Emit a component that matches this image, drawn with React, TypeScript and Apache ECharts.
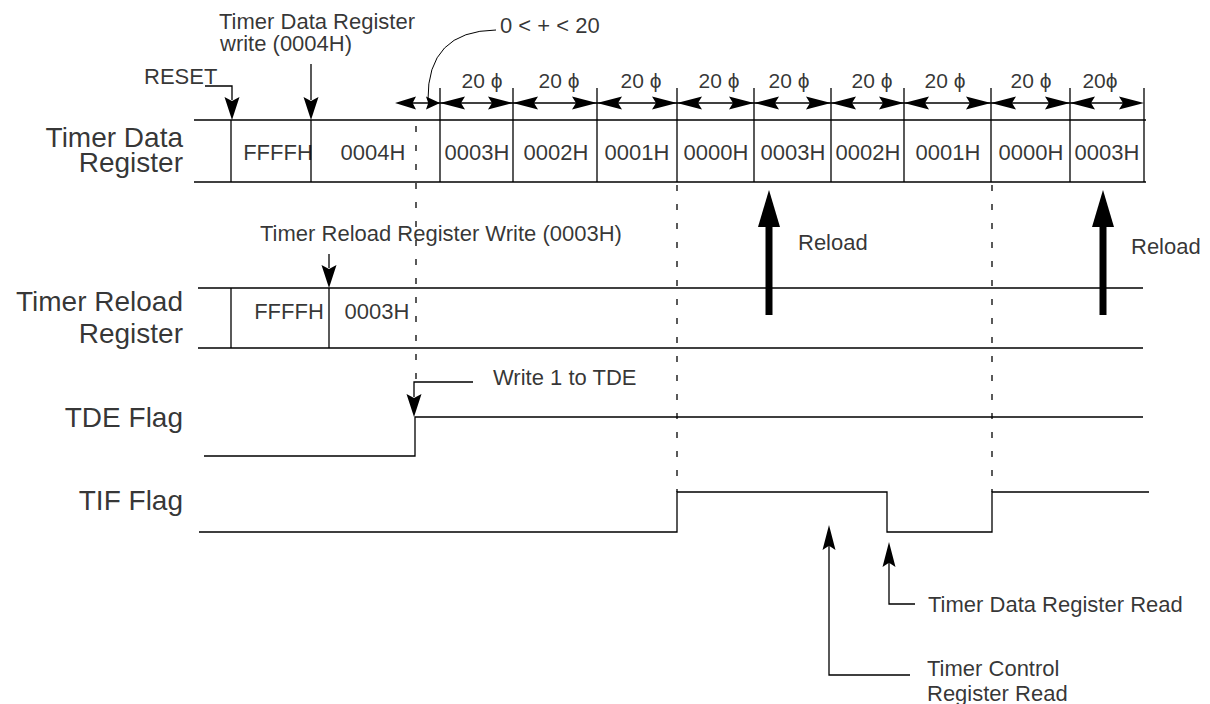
import React, { useEffect, useRef } from "react";
import * as echarts from "echarts";

const W = 1210;
const H = 704;
const FONT = "'Liberation Sans', Arial, Helvetica, sans-serif";

// ---- signal levels (y axis units) ----
const tdrTop = 120;
const tdrBot = 182;
const trrTop = 288;
const trrBot = 348;
const dimY = 103;
const tickTop = 88;

// ---- Timer Data Register bus ----
const tdrSpan = [194, 1146];
const tdrEdges = [231, 311, 440, 513, 597, 677, 754, 831, 904, 991, 1070, 1144];
const tdrValues = ["FFFFH", "0004H", "0003H", "0002H", "0001H", "0000H", "0003H", "0002H", "0001H", "0000H", "0003H"];
const tdrValueX = [278, 373, 477, 556, 637, 716, 793, 868, 948, 1031, 1107];

// ---- count periods (20 phi each) ----
const periodEdges = [440, 513, 597, 677, 754, 831, 904, 991, 1070, 1144];
const periodLabels = ["20 ϕ", "20 ϕ", "20 ϕ", "20 ϕ", "20 ϕ", "20 ϕ", "20 ϕ", "20 ϕ", "20ϕ"];
const periodLabelX = [482, 559, 641, 719, 789, 872, 945, 1031, 1100];
const syncStart = 395; // "0 < + < 20" interval left arrow tip

// ---- Timer Reload Register bus ----
const trrSpan = [198, 1143];
const trrEdges = [231, 329];
const trrValues = ["FFFFH", "0003H"];
const trrValueX = [289, 377];

// ---- flags ----
const tdeWave = [[204, 456], [415, 456], [415, 417], [1143, 417]];
const tifWave = [[199, 532], [677, 532], [677, 492], [887, 492], [887, 532], [992, 532], [992, 492], [1149, 492]];

// ---- dashed guides: [x, yStart, yEnd] ----
const guides = [[416, 126, 382], [677, 185, 492], [992, 185, 492]];
const DASH = 6;
const GAP = 13;

// ---- reload arrows ----
const reloadX = [769, 1103];
const reloadTip = 190;
const reloadTail = 315;

// ---- event arrows: [x, tip y] ----
const downArrows = [[232, 120], [311, 120], [329, 288], [414, 417]];
const upArrows = [[829, 525], [889, 542]];
const leaders = [
  [[205, 86], [232, 86], [232, 100]],
  [[311, 64], [311, 100]],
  [[329, 254], [329, 268]],
  [[473, 382], [414, 382], [414, 397]],
  [[829, 545], [829, 675], [910, 675]],
  [[889, 562], [889, 604], [915, 604]],
];
const syncCurve = [[496, 30], [428, 100]];

// ---- texts ----
const rowLabels = [
  ["Timer Data", 137], ["Register", 162],
  ["Timer Reload", 301], ["Register", 333],
  ["TDE Flag", 417], ["TIF Flag", 500],
];
const rowLabelRight = 183;
const notes = [
  ["Timer Data Register", 219, 21],
  ["write (0004H)", 220, 43],
  ["RESET", 144, 76],
  ["0 < + < 20", 500, 25],
  ["Timer Reload Register Write (0003H)", 260, 233],
  ["Write 1 to TDE", 493, 377],
  ["Reload", 798, 242],
  ["Reload", 1131, 246],
  ["Timer Data Register Read", 928, 604],
  ["Timer Control", 927, 668],
  ["Register Read", 927, 693],
];

const DOWN = "path://M0,0L7.5,4L15,0L7.5,23Z";
const UP = "path://M7.5,0L15,23L7.5,19L0,23Z";
const RIGHT = "path://M0,0L25,6.5L0,13L4,6.5Z";
const LEFT = "path://M25,0L0,6.5L25,13L21,6.5Z";

const headSeries = (symbol: string, size: number[], data: number[][]) => ({
  type: "scatter",
  silent: true,
  symbol,
  symbolSize: size,
  itemStyle: { color: "#000", opacity: 1 },
  data,
});

export default function App() {
  const ref = useRef<HTMLDivElement>(null);
  useEffect(() => {
    if (!ref.current) return;
    const chart = echarts.init(ref.current, null, { renderer: "svg" });

    const solid: any[] = [];
    solid.push({ coords: [[tdrSpan[0], tdrTop], [tdrSpan[1], tdrTop]] });
    solid.push({ coords: [[tdrSpan[0], tdrBot], [tdrSpan[1], tdrBot]] });
    tdrEdges.forEach((x) => {
      const top = periodEdges.includes(x) ? tickTop : tdrTop;
      solid.push({ coords: [[x, top], [x, tdrBot]] });
    });
    solid.push({ coords: [[syncStart + 4, dimY], [periodEdges[periodEdges.length - 1] - 4, dimY]] });
    solid.push({ coords: [[trrSpan[0], trrTop], [trrSpan[1], trrTop]] });
    solid.push({ coords: [[trrSpan[0], trrBot], [trrSpan[1], trrBot]] });
    trrEdges.forEach((x) => solid.push({ coords: [[x, trrTop], [x, trrBot]] }));
    solid.push({ coords: tdeWave });
    solid.push({ coords: tifWave });
    leaders.forEach((l) => solid.push({ coords: l }));

    // dashed guides as explicit dash segments
    const dashes: any[] = [];
    guides.forEach(([x, y0, y1]) => {
      for (let y = y0; y < y1; y += DASH + GAP) {
        dashes.push({ coords: [[x, y], [x, Math.min(y + DASH, y1)]] });
      }
    });

    const thick = reloadX.map((x) => ({ coords: [[x, reloadTail], [x, reloadTip + 34]] }));

    const downPts = downArrows.map(([x, tip]) => [x, tip - 11.5]);
    const upPts = upArrows.map(([x, tip]) => [x, tip + 12.5]);
    const leftPts: number[][] = [];
    const rightPts: number[][] = [];
    for (let i = 0; i < periodEdges.length - 1; i++) {
      leftPts.push([periodEdges[i] + 12.5, dimY]);
      rightPts.push([periodEdges[i + 1] - 12.5, dimY]);
    }
    const syncLeft = [[syncStart + 10.5, dimY]];
    const syncRight = [[periodEdges[0] - 7, dimY]];
    const reloadHeads = reloadX.map((x) => [x, reloadTip + 18.5]);

    const textItem = (t: string, x: number, y: number, align: string, size: number) => ({
      value: [x, y],
      label: {
        show: true,
        formatter: t,
        position: "inside",
        align,
        verticalAlign: "middle",
        fontSize: size,
        fontFamily: FONT,
        color: "#000",
      },
    });
    const texts: any[] = [];
    rowLabels.forEach(([t, y]) => texts.push(textItem(t as string, rowLabelRight, y as number, "right", 28)));
    notes.forEach(([t, x, y]) => texts.push(textItem(t as string, x as number, y as number, "left", 22)));
    tdrValues.forEach((t, i) => texts.push(textItem(t, tdrValueX[i], 152, "center", 22)));
    trrValues.forEach((t, i) => texts.push(textItem(t, trrValueX[i], 311, "center", 22)));
    periodLabels.forEach((t, i) => texts.push(textItem(t, periodLabelX[i], 80, "center", 21)));

    chart.setOption({
      animation: false,
      backgroundColor: "#fff",
      grid: { left: 0, right: 0, top: 0, bottom: 0, containLabel: false },
      xAxis: { type: "value", min: 0, max: W, show: false },
      yAxis: { type: "value", min: 0, max: H, inverse: true, show: false },
      series: [
        {
          type: "lines",
          coordinateSystem: "cartesian2d",
          polyline: true,
          silent: true,
          symbol: "none",
          lineStyle: { color: "#000", width: 1.3, opacity: 1 },
          data: solid,
        },
        {
          type: "lines",
          coordinateSystem: "cartesian2d",
          polyline: true,
          silent: true,
          symbol: "none",
          lineStyle: { color: "#000", width: 1.3, opacity: 1 },
          data: dashes,
        },
        {
          type: "lines",
          coordinateSystem: "cartesian2d",
          polyline: true,
          silent: true,
          symbol: "none",
          lineStyle: { color: "#000", width: 7, opacity: 1 },
          data: thick,
        },
        {
          type: "lines",
          coordinateSystem: "cartesian2d",
          silent: true,
          symbol: "none",
          lineStyle: { color: "#000", width: 1, opacity: 1, curveness: -0.5 },
          data: [{ coords: syncCurve }],
        },
        headSeries(DOWN, [15, 23], downPts),
        headSeries(UP, [13, 25], upPts),
        headSeries(LEFT, [25, 13], leftPts),
        headSeries(RIGHT, [25, 13], rightPts),
        headSeries(LEFT, [21, 13], syncLeft),
        headSeries(RIGHT, [14, 13], syncRight),
        headSeries("triangle", [22, 37], reloadHeads),
        {
          type: "scatter",
          silent: true,
          symbol: "circle",
          symbolSize: 1,
          itemStyle: { color: "rgba(0,0,0,0)" },
          data: texts,
        },
      ],
    });
    return () => chart.dispose();
  }, []);
  return (
    <div
      ref={ref}
      style={{ position: "absolute", left: 0, top: 0, width: W, height: H, background: "#fff" }}
    />
  );
}
